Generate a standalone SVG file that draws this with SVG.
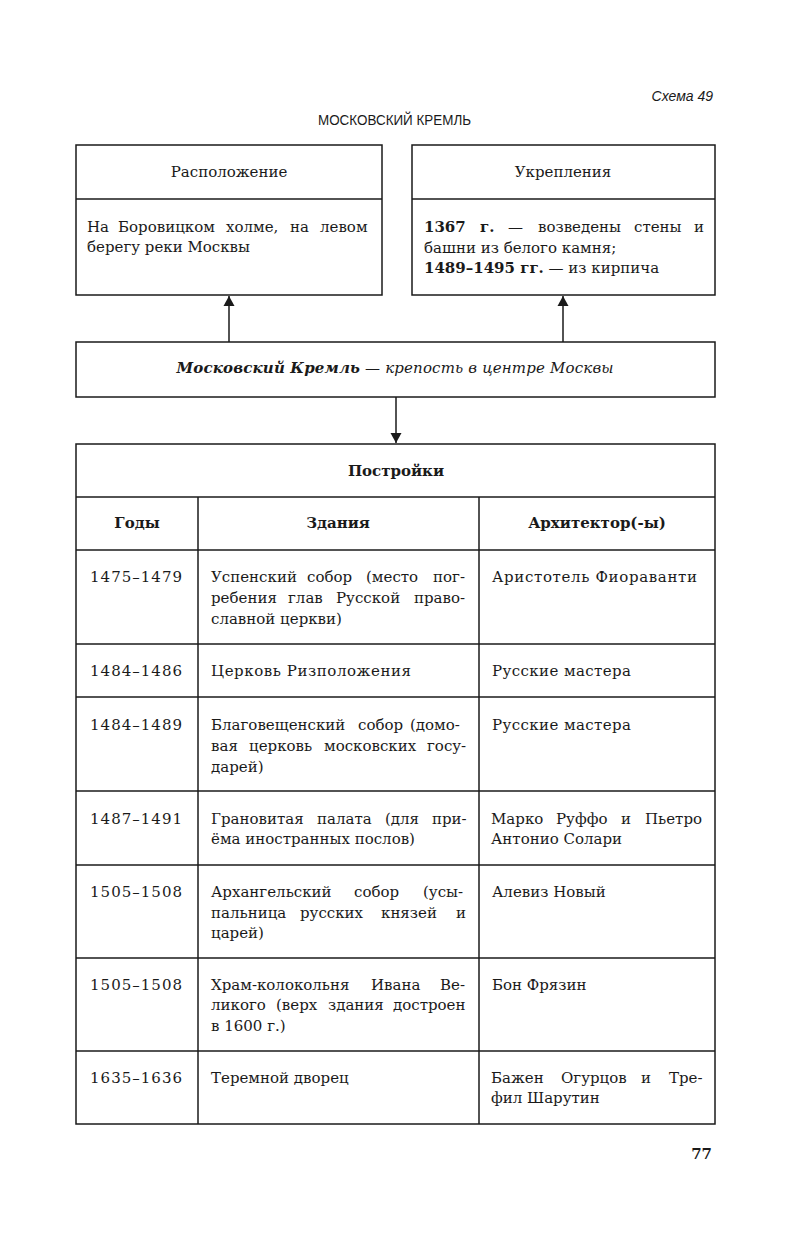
<svg xmlns="http://www.w3.org/2000/svg" width="791" height="1245" viewBox="0 0 791 1245">
<defs>
<style>
.box{fill:none;stroke:#1a1a1a;stroke-width:1.5}
.ln{stroke:#1a1a1a;stroke-width:1.5;fill:none}
.t{font-family:"DejaVu Serif","Liberation Serif",serif;font-size:15px;fill:#1a1a1a}
.b{font-weight:bold}
.c{text-anchor:middle}
.s{font-family:"Liberation Sans","DejaVu Sans",sans-serif;font-size:14px;fill:#1a1a1a}
</style>
<marker id="ah" viewBox="0 0 10 16" refX="10" refY="8" markerWidth="10" markerHeight="16" markerUnits="userSpaceOnUse" orient="auto">
<path d="M0,2.5 L10,8 L0,13.5 Z" fill="#1a1a1a"/>
</marker>
</defs>
<rect width="791" height="1245" fill="#fff"/>

<g id="header">
<text class="s" x="713" y="101" text-anchor="end" font-style="italic">Схема 49</text>
<text class="s" x="318" y="125" textLength="153" lengthAdjust="spacingAndGlyphs">МОСКОВСКИЙ КРЕМЛЬ</text>
</g>

<g id="location">
<rect class="box" x="76" y="145" width="306" height="150"/>
<line class="ln" x1="76" y1="199" x2="382" y2="199"/>
<text class="t c" x="229" y="177">Расположение</text>
<text class="t" y="232"><tspan x="87">На</tspan><tspan x="118">Боровицком</tspan><tspan x="226">холме,</tspan><tspan x="290">на</tspan><tspan x="320">левом</tspan></text>
<text class="t" x="87" y="252">берегу реки Москвы</text>
</g>

<g id="fortifications">
<rect class="box" x="412" y="145" width="303" height="150"/>
<line class="ln" x1="412" y1="199" x2="715" y2="199"/>
<text class="t c" x="563" y="177">Укрепления</text>
<text class="t" y="232"><tspan x="424" class="b">1367</tspan><tspan x="480" class="b">г.</tspan><tspan x="508">—</tspan><tspan x="538">возведены</tspan><tspan x="634">стены</tspan><tspan x="694">и</tspan></text>
<text class="t" x="424" y="253">башни из белого камня;</text>
<text class="t" x="424" y="273"><tspan class="b">1489–1495 гг.</tspan> — из кирпича</text>
</g>

<g id="kremlin">
<rect class="box" x="76" y="342" width="639" height="55"/>
<text class="t c" x="395" y="373" font-style="italic" textLength="437" lengthAdjust="spacing"><tspan class="b">Московский Кремль</tspan> — крепость в центре Москвы</text>
</g>

<g id="connectors">
<line class="ln" x1="229" y1="342" x2="229" y2="296" marker-end="url(#ah)"/>
<line class="ln" x1="563" y1="342" x2="563" y2="296" marker-end="url(#ah)"/>
<line class="ln" x1="396" y1="397" x2="396" y2="443" marker-end="url(#ah)"/>
</g>

<g id="buildings">
<rect class="box" x="76" y="444" width="639" height="680"/>
<line class="ln" x1="76" y1="497" x2="715" y2="497"/>
<line class="ln" x1="76" y1="550" x2="715" y2="550"/>
<line class="ln" x1="76" y1="644" x2="715" y2="644"/>
<line class="ln" x1="76" y1="697" x2="715" y2="697"/>
<line class="ln" x1="76" y1="791" x2="715" y2="791"/>
<line class="ln" x1="76" y1="865" x2="715" y2="865"/>
<line class="ln" x1="76" y1="958" x2="715" y2="958"/>
<line class="ln" x1="76" y1="1051" x2="715" y2="1051"/>
<line class="ln" x1="198" y1="497" x2="198" y2="1124"/>
<line class="ln" x1="479" y1="497" x2="479" y2="1124"/>
<text class="t b c" x="396" y="476">Постройки</text>
<text class="t b c" x="137" y="528">Годы</text>
<text class="t b c" x="338" y="528">Здания</text>
<text class="t b c" x="597" y="528">Архитектор(-ы)</text>

<text class="t" x="90" y="582" textLength="92" lengthAdjust="spacing">1475–1479</text>
<text class="t" y="582"><tspan x="211">Успенский</tspan><tspan x="307">собор</tspan><tspan x="366">(место</tspan><tspan x="433">пог-</tspan></text>
<text class="t" y="603"><tspan x="211">ребения</tspan><tspan x="288">глав</tspan><tspan x="336">Русской</tspan><tspan x="414">право-</tspan></text>
<text class="t" x="211" y="624">славной церкви)</text>
<text class="t" x="492" y="582" textLength="205" lengthAdjust="spacing">Аристотель Фиораванти</text>

<text class="t" x="90" y="676" textLength="92" lengthAdjust="spacing">1484–1486</text>
<text class="t" x="211" y="676" textLength="200" lengthAdjust="spacing">Церковь Ризположения</text>
<text class="t" x="492" y="676" textLength="139" lengthAdjust="spacing">Русские мастера</text>

<text class="t" x="90" y="730" textLength="92" lengthAdjust="spacing">1484–1489</text>
<text class="t" y="730"><tspan x="211">Благовещенский</tspan><tspan x="358">собор</tspan><tspan x="410">(домо-</tspan></text>
<text class="t" y="751"><tspan x="211">вая</tspan><tspan x="249">церковь</tspan><tspan x="324">московских</tspan><tspan x="427">госу-</tspan></text>
<text class="t" x="211" y="772">дарей)</text>
<text class="t" x="492" y="730" textLength="139" lengthAdjust="spacing">Русские мастера</text>

<text class="t" x="90" y="824" textLength="92" lengthAdjust="spacing">1487–1491</text>
<text class="t" y="824"><tspan x="211">Грановитая</tspan><tspan x="317">палата</tspan><tspan x="385">(для</tspan><tspan x="432">при-</tspan></text>
<text class="t" x="211" y="844">ёма иностранных послов)</text>
<text class="t" y="824"><tspan x="491">Марко</tspan><tspan x="556">Руффо</tspan><tspan x="621">и</tspan><tspan x="645">Пьетро</tspan></text>
<text class="t" x="491" y="844">Антонио Солари</text>

<text class="t" x="90" y="897" textLength="92" lengthAdjust="spacing">1505–1508</text>
<text class="t" y="897"><tspan x="211">Архангельский</tspan><tspan x="354">собор</tspan><tspan x="423">(усы-</tspan></text>
<text class="t" y="918"><tspan x="211">пальница</tspan><tspan x="300">русских</tspan><tspan x="381">князей</tspan><tspan x="456">и</tspan></text>
<text class="t" x="211" y="938">царей)</text>
<text class="t" x="492" y="897">Алевиз Новый</text>

<text class="t" x="90" y="990" textLength="92" lengthAdjust="spacing">1505–1508</text>
<text class="t" y="990"><tspan x="211">Храм-колокольня</tspan><tspan x="371">Ивана</tspan><tspan x="440">Ве-</tspan></text>
<text class="t" y="1010"><tspan x="211">ликого</tspan><tspan x="276">(верх</tspan><tspan x="328">здания</tspan><tspan x="393">достроен</tspan></text>
<text class="t" x="211" y="1031">в 1600 г.)</text>
<text class="t" x="492" y="990">Бон Фрязин</text>

<text class="t" x="90" y="1083" textLength="92" lengthAdjust="spacing">1635–1636</text>
<text class="t" x="211" y="1083">Теремной дворец</text>
<text class="t" y="1083"><tspan x="491">Бажен</tspan><tspan x="561">Огурцов</tspan><tspan x="641">и</tspan><tspan x="669">Тре-</tspan></text>
<text class="t" x="491" y="1103">фил Шарутин</text>
</g>

<g id="page">
<text class="t b" x="712" y="1159" text-anchor="end">77</text>
</g>
</svg>
